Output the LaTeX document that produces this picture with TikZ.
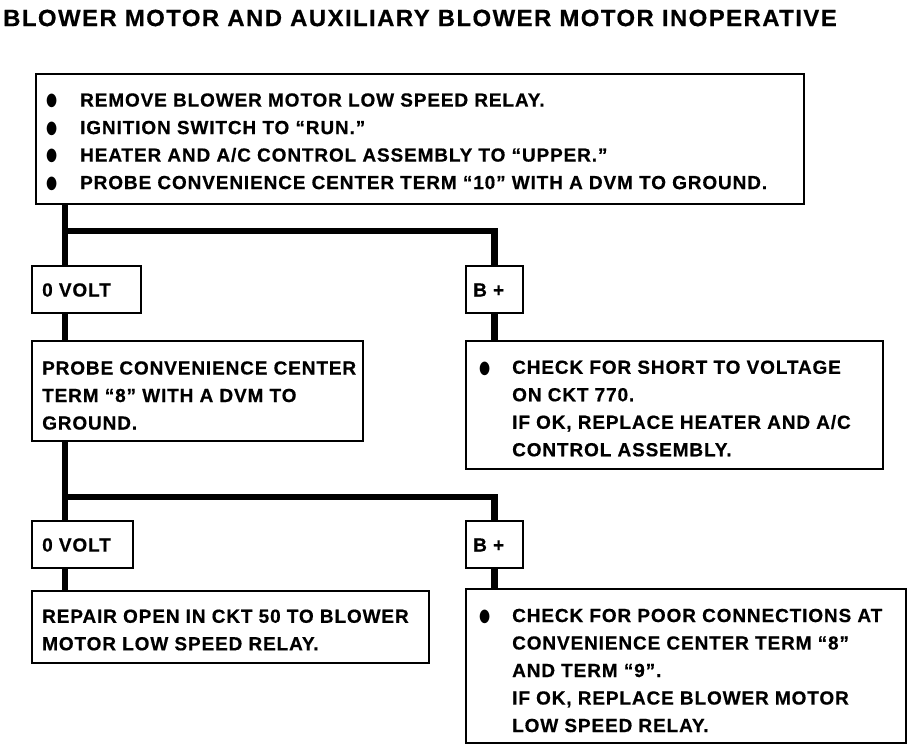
\documentclass[tikz,border=0pt]{standalone}
\usepackage{fontspec}
\setmainfont{Liberation Sans}[LetterSpace=4.6,BoldFeatures={FakeBold=0.5}]
\newfontfamily\titlef{Liberation Sans}[FakeStretch=1.02,LetterSpace=6,BoldFeatures={FakeBold=0.5}]
\newfontfamily\symf{DejaVu Sans}
\usepackage{graphicx}
\newcommand{\bul}[1]{\makebox[#1][l]{\raisebox{0.6pt}{\scalebox{0.75}[1.05]{\symf\fontsize{17}{17}\selectfont ●}}}}
\begin{document}
\begin{tikzpicture}[x=1pt,y=-1pt,
  box/.style={draw, line width=1.7pt, anchor=north west, inner sep=0pt},
  txt/.style={anchor=west, inner sep=0pt, align=left, font=\bfseries\fontsize{19}{27.5}\selectfont},
  conn/.style={line width=6.5pt}]
\useasboundingbox (0,0) rectangle (912,752);
\node[anchor=west, inner sep=0pt, font=\titlef\bfseries\fontsize{23.5}{26}\selectfont] (title) at (3,18) {BLOWER MOTOR AND AUXILIARY BLOWER MOTOR INOPERATIVE};

% boxes
\node[box, minimum width=768pt, minimum height=130pt] (top) at (35,73) {};
\node[box, minimum width=109pt, minimum height=47pt] (v1) at (31,265) {};
\node[box, minimum width=57pt, minimum height=47pt] (b1) at (465,265) {};
\node[box, minimum width=331pt, minimum height=100pt] (probe) at (31,340) {};
\node[box, minimum width=417pt, minimum height=128pt] (chk1) at (465,340) {};
\node[box, minimum width=101pt, minimum height=47pt] (v2) at (31,520) {};
\node[box, minimum width=57pt, minimum height=47pt] (b2) at (465,520) {};
\node[box, minimum width=397pt, minimum height=72pt] (repair) at (31,590) {};
\node[box, minimum width=440pt, minimum height=154pt] (chk2) at (465,588) {};

% texts
\node[txt] (top-t) at (46,142) {\bul{34pt}REMOVE BLOWER MOTOR LOW SPEED RELAY.\\
\bul{34pt}IGNITION SWITCH TO “RUN.”\\
\bul{34pt}HEATER AND A/C CONTROL ASSEMBLY TO “UPPER.”\\
\bul{34pt}PROBE CONVENIENCE CENTER TERM “10” WITH A DVM TO GROUND.};
\node[txt] (v1-t) at (42,290) {0 VOLT};
\node[txt] (b1-t) at (473,290) {B +};
\node[txt] (probe-t) at (42,395.5) {PROBE CONVENIENCE CENTER\\TERM “8” WITH A DVM TO\\GROUND.};
\node[txt] (chk1-t) at (479,408.5) {\bul{33pt}CHECK FOR SHORT TO VOLTAGE\\
\hspace*{33pt}ON CKT 770.\\
\hspace*{33pt}IF OK, REPLACE HEATER AND A/C\\
\hspace*{33pt}CONTROL ASSEMBLY.};
\node[txt] (v2-t) at (42,545) {0 VOLT};
\node[txt] (b2-t) at (473,545) {B +};
\node[txt] (repair-t) at (42,630) {REPAIR OPEN IN CKT 50 TO BLOWER\\MOTOR LOW SPEED RELAY.};
\node[txt] (chk2-t) at (479,670.5) {\bul{33pt}CHECK FOR POOR CONNECTIONS AT\\
\hspace*{33pt}CONVENIENCE CENTER TERM “8”\\
\hspace*{33pt}AND TERM “9”.\\
\hspace*{33pt}IF OK, REPLACE BLOWER MOTOR\\
\hspace*{33pt}LOW SPEED RELAY.};

% connectors
\coordinate (L) at (65,0);
\coordinate (j1) at (65,231);
\coordinate (j2) at (65,497);
\draw[conn] (top.south -| L) -- (v1.north -| L);
\draw[conn] (j1) -- (j1 -| b1.north) -- (b1.north);
\draw[conn] (v1.south -| L) -- (probe.north -| L);
\draw[conn] (b1.south) -- (chk1.north -| b1.south);
\draw[conn] (probe.south -| L) -- (v2.north -| L);
\draw[conn] (j2) -- (j2 -| b2.north) -- (b2.north);
\draw[conn] (v2.south -| L) -- (repair.north -| L);
\draw[conn] (b2.south) -- (chk2.north -| b2.south);
\end{tikzpicture}
\end{document}
